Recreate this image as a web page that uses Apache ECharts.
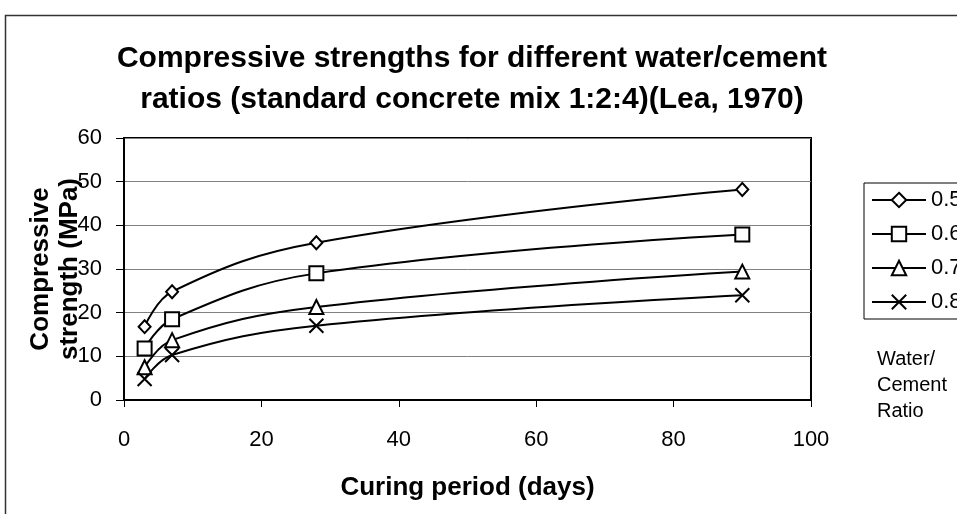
<!DOCTYPE html>
<html>
<head>
<meta charset="utf-8">
<script src="https://cdn.jsdelivr.net/npm/echarts@6/dist/echarts.min.js"></script>
<style>html,body{margin:0;padding:0;background:#fff;}#c{width:957px;height:514px;}</style>
</head>
<body>
<div id="c"></div>
<script>
var days = [3, 7, 28, 90];
var seriesNames = ['0.5', '0.6', '0.7', '0.8'];
var wc05 = [16.8, 24.8, 36.0, 48.2];
var wc06 = [11.8, 18.5, 29.0, 37.9];
var wc07 = [7.5, 13.7, 21.3, 29.4];
var wc08 = [4.8, 10.3, 17.0, 24.0];
var xTicks = [0, 20, 40, 60, 80, 100];
var yTicks = [0, 10, 20, 30, 40, 50, 60];

var FONT = '"Liberation Sans", Arial, sans-serif';
var symbols = ['diamond', 'rect', 'triangle', 'path://M0,0L10,10M10,0L0,10'];
var sizes = [[12, 13], [14, 14], [14, 14], [14, 14]];
var allVals = [wc05, wc06, wc07, wc08];

function pairs(vals) { return days.map(function (d, i) { return [d, vals[i]]; }); }

var series = seriesNames.map(function (n, k) {
  return {
    name: n, type: 'line', smooth: 0.4,
    data: pairs(allVals[k]),
    symbol: symbols[k], symbolSize: sizes[k],
    showAllSymbol: true,
    lineStyle: { color: '#000', width: 2 },
    itemStyle: { color: '#fff', borderColor: '#000', borderWidth: 2 },
    emphasis: { disabled: true },
    animation: false
  };
});

var chart = echarts.init(document.getElementById('c'), null, { renderer: 'canvas' });
chart.setOption({
  backgroundColor: '#fff',
  animation: false,
  title: {
    text: 'Compressive strengths for different water/cement\nratios (standard concrete mix 1:2:4)(Lea, 1970)',
    left: 467, top: 33, textAlign: 'center',
    textStyle: { fontFamily: FONT, fontWeight: 'bold', fontSize: 30, lineHeight: 41, color: '#000' }
  },
  legend: {
    orient: 'vertical', left: 864, top: 183,
    data: seriesNames,
    itemWidth: 54, itemHeight: 18, itemGap: 12,
    padding: [6, 40, 6, 7],
    borderColor: '#000', borderWidth: 1,
    textStyle: { fontFamily: FONT, fontSize: 22, color: '#000' },
    selectedMode: false
  },
  grid: {
    left: 124, right: 146, top: 138, bottom: 114,
    show: true, borderColor: '#000', borderWidth: 2, backgroundColor: '#fff'
  },
  xAxis: {
    type: 'value', min: 0, max: 100, interval: 20,
    name: 'Curing period (days)', nameLocation: 'middle', nameGap: 75,
    nameTextStyle: { fontFamily: FONT, fontWeight: 'bold', fontSize: 26, color: '#000' },
    axisLine: { show: true, lineStyle: { color: '#000', width: 2 } },
    axisTick: { show: true, length: 7, lineStyle: { color: '#000', width: 1 } },
    axisLabel: { margin: 29, fontFamily: FONT, fontSize: 22, color: '#000',
      formatter: function (v) { return xTicks.indexOf(v) >= 0 ? String(v) : ''; } },
    splitLine: { show: false }
  },
  yAxis: {
    type: 'value', min: 0, max: 60, interval: 10,
    name: 'Compressive\nstrength (MPa)', nameLocation: 'middle', nameGap: 40, nameRotate: 90,
    nameMoveOverlap: false,
    nameTextStyle: { fontFamily: FONT, fontWeight: 'bold', fontSize: 26, lineHeight: 29, color: '#000' },
    axisLine: { show: true, lineStyle: { color: '#000', width: 2 } },
    axisTick: { show: true, length: 8, lineStyle: { color: '#000', width: 1 } },
    axisLabel: { margin: 22, fontFamily: FONT, fontSize: 22, color: '#000',
      formatter: function (v) { return yTicks.indexOf(v) >= 0 ? String(v) : ''; } },
    splitLine: { show: true, lineStyle: { color: '#808080', width: 1 } }
  },
  graphic: [
    { type: 'rect', silent: true, shape: { x: 5.5, y: 15.5, width: 1200, height: 1200 },
      style: { fill: 'none', stroke: '#333', lineWidth: 1.5 }, z: -1 },
    { type: 'text', left: 877, top: 346, silent: true,
      style: { text: 'Water/\nCement\nRatio', fontFamily: FONT, fontSize: 20, lineHeight: 26, fill: '#000' } }
  ],
  series: series
});
</script>
</body>
</html>
